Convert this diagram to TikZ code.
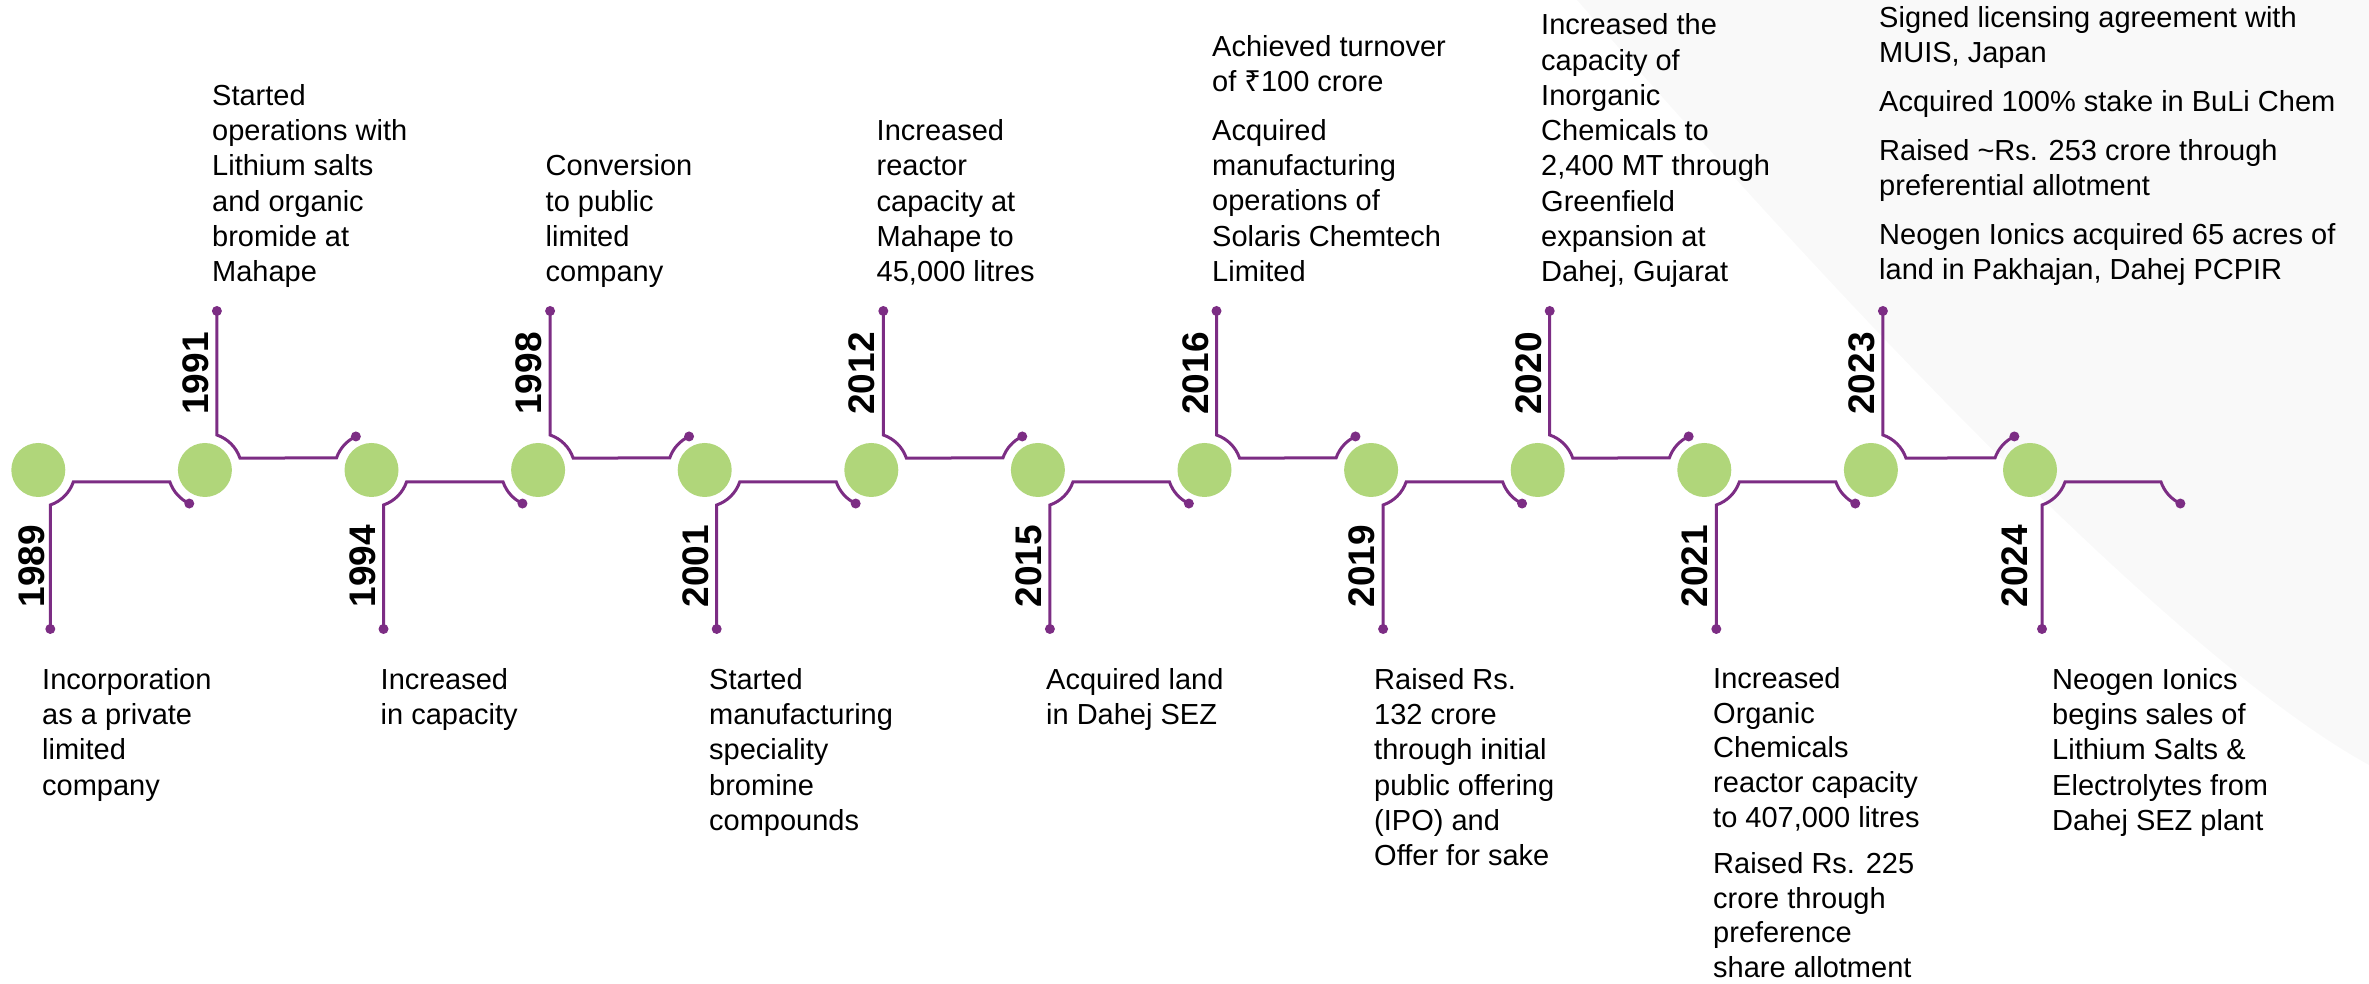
\documentclass[tikz,border=0pt]{standalone}
\usepackage{fontspec}
\setmainfont{Liberation Sans}
\newfontfamily\rupeefont{Noto Sans}
\usetikzlibrary{calc}
\definecolor{tlpurple}{RGB}{124,45,132}
\definecolor{tlgreen}{RGB}{176,214,122}
\definecolor{tlgray}{RGB}{249,249,249}
\begin{document}
\begin{tikzpicture}[x=1pt,y=1pt,
  milestone/.style={circle,fill=tlgreen,minimum size=54pt,inner sep=0pt},
  conn/.style={draw=tlpurple,line width=3pt},
  enddot/.style={circle,fill=tlpurple,minimum size=10pt,inner sep=0pt},
  yearlbl/.style={rotate=90,anchor=base,inner sep=0pt,font=\fontsize{37}{40}\selectfont\bfseries},
  desc/.style={anchor=north west,inner sep=0pt,align=left,font=\fontsize{29}{35.3}\selectfont}]
\useasboundingbox (0,0) rectangle (2369,984);
% background shape
\fill[tlgray] (1577,984) .. controls (1827,696.5) and (2169,329) .. (2369,219) -- (2369,984) -- cycle;
% milestones
\node[milestone] (c0) at (38.3,514) {};
\node[milestone] (c1) at (204.9,514) {};
\node[milestone] (c2) at (371.5,514) {};
\node[milestone] (c3) at (538.1,514) {};
\node[milestone] (c4) at (704.7,514) {};
\node[milestone] (c5) at (871.3,514) {};
\node[milestone] (c6) at (1037.9,514) {};
\node[milestone] (c7) at (1204.5,514) {};
\node[milestone] (c8) at (1371.1,514) {};
\node[milestone] (c9) at (1537.7,514) {};
\node[milestone] (c10) at (1704.3,514) {};
\node[milestone] (c11) at (1870.9,514) {};
\node[milestone] (c12) at (2030,514) {};
\coordinate (c13) at (2196,514);
% connectors below
\foreach \i/\j in {0/1,2/3,4/5,6/7,8/9,10/11,12/13}{
  \draw[conn] ($(c\i)+(12,-159)$) -- ($(c\i)+(12,-35)$) arc[start angle=-71.1,end angle=-18.9,radius=37pt]
     -- ($(c\j)+(-35,-12)$) arc[start angle=-161.1,end angle=-115,radius=37pt];
  \node[enddot] at ($(c\i)+(12,-159)$) {};
  \node[enddot] at ($(c\j)+(-115:37pt)$) {};
}
% connectors above
\foreach \i/\j in {1/2,3/4,5/6,7/8,9/10,11/12}{
  \draw[conn] ($(c\i)+(12,159)$) -- ($(c\i)+(12,35)$) arc[start angle=71.1,end angle=18.9,radius=37pt]
     -- ($(c\j)+(-35,12)$) arc[start angle=161.1,end angle=115,radius=37pt];
  \node[enddot] at ($(c\i)+(12,159)$) {};
  \node[enddot] at ($(c\j)+(115:37pt)$) {};
}
% years
\node[yearlbl] (y0) at ($(c0)+(6.5,-96)$) {1989};
\node[yearlbl] (y1) at ($(c1)+(3.5,96.5)$) {1991};
\node[yearlbl] (y2) at ($(c2)+(3.5,-96)$) {1994};
\node[yearlbl] (y3) at ($(c3)+(3.5,96.5)$) {1998};
\node[yearlbl] (y4) at ($(c4)+(3.5,-96)$) {2001};
\node[yearlbl] (y5) at ($(c5)+(3.5,96.5)$) {2012};
\node[yearlbl] (y6) at ($(c6)+(3.5,-96)$) {2015};
\node[yearlbl] (y7) at ($(c7)+(3.5,96.5)$) {2016};
\node[yearlbl] (y8) at ($(c8)+(3.5,-96)$) {2019};
\node[yearlbl] (y9) at ($(c9)+(3.5,96.5)$) {2020};
\node[yearlbl] (y10) at ($(c10)+(3.5,-96)$) {2021};
\node[yearlbl] (y11) at ($(c11)+(3.5,96.5)$) {2023};
\node[yearlbl] (y12) at ($(c12)+(-3,-96)$) {2024};
% descriptions below
\node[desc] (t0) at (42,319.7) {\strut Incorporation\\as a private\\limited\\company};
\node[desc] (t2) at (380.5,319.7) {\strut Increased\\in capacity};
\node[desc] (t4) at (709,319.7) {\strut Started\\manufacturing\\speciality\\bromine\\compounds};
\node[desc] (t6) at (1046,319.7) {\strut Acquired land\\in Dahej SEZ};
\node[desc] (t8) at (1374,319.7) {\strut Raised Rs.\\132 crore\\through initial\\public offering\\(IPO) and\\Offer for sake};
\node[desc,font=\fontsize{29}{34.6}\selectfont] (t10) at (1713,319.7) {\strut Increased\\Organic\\Chemicals\\reactor capacity\\to 407,000 litres\\[12pt]Raised Rs. 225\\crore through\\preference\\share allotment};
\node[desc] (t12) at (2052,319.7) {\strut Neogen Ionics\\begins sales of\\Lithium Salts \&\\Electrolytes from\\Dahej SEZ plant};
% descriptions above
\node[desc] (t1) at (212,903.5) {\strut Started\\operations with\\Lithium salts\\and organic\\bromide at\\Mahape};
\node[desc] (t3) at (545.5,832.9) {\strut Conversion\\to public\\limited\\company};
\node[desc] (t5) at (876.5,868.2) {\strut Increased\\reactor\\capacity at\\Mahape to\\45,000 litres};
\node[desc] (t7) at (1212,952.7) {\strut Achieved turnover\\of {\rupeefont ₹}100 crore\\[13.5pt]Acquired\\manufacturing\\operations of\\Solaris Chemtech\\Limited};
\node[desc] (t9) at (1541,974.1) {\strut Increased the\\capacity of\\Inorganic\\Chemicals to\\2,400 MT through\\Greenfield\\expansion at\\Dahej, Gujarat};
\node[desc] (t11) at (1879,981.7) {\strut Signed licensing agreement with\\MUIS, Japan\\[13.5pt]Acquired 100\% stake in BuLi Chem\\[13.5pt]Raised \textasciitilde Rs. 253 crore through\\preferential allotment\\[13.5pt]Neogen Ionics acquired 65 acres of\\land in Pakhajan, Dahej PCPIR};
\end{tikzpicture}
\end{document}
